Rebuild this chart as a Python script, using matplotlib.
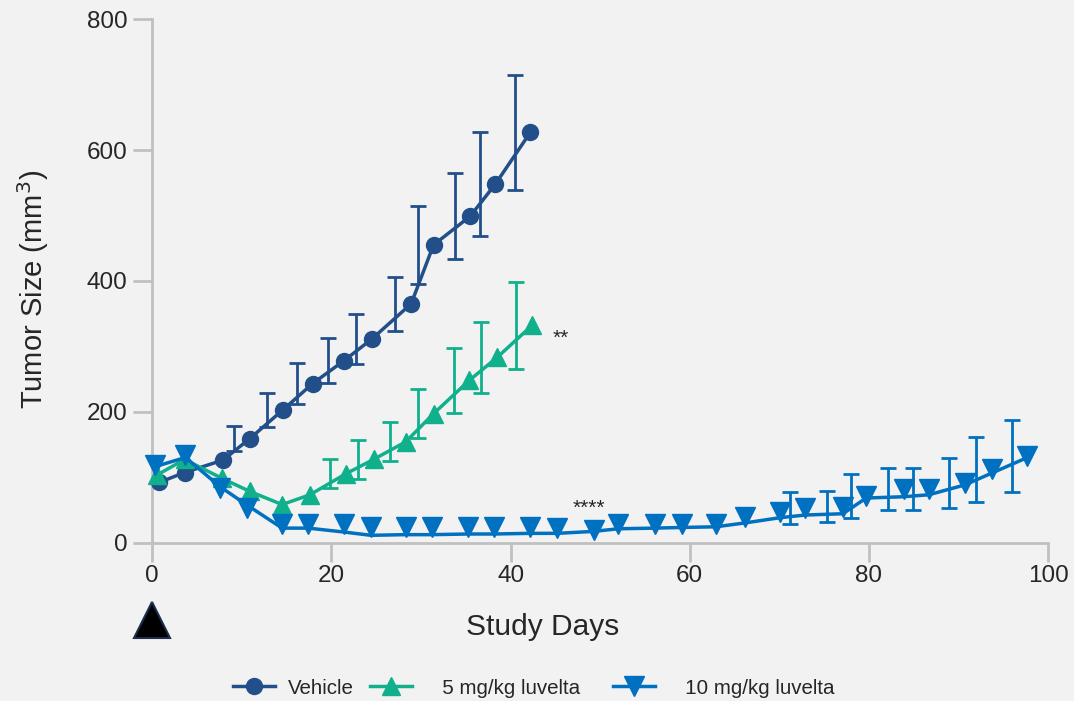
import matplotlib.pyplot as plt
from matplotlib.lines import Line2D

plt.rcParams['font.family'] = ['Liberation Sans', 'DejaVu Sans']

# study day / mean tumour volume (mm3) / SEM for each group
veh_days = [0.8, 3.6, 7.9, 10.9, 14.6, 17.9, 21.4, 24.5, 28.9, 31.4, 35.5, 38.3, 42.2]
veh_mean = [92, 107, 126, 159, 203, 243, 278, 311, 365, 455, 499, 548, 627]
veh_sem = [0, 0, 0, 19, 26, 31, 34, 38, 41, 60, 66, 80, 88]

lo_days = [0.5, 3.6, 7.8, 10.9, 14.5, 17.6, 21.6, 24.7, 28.3, 31.4, 35.4, 38.5, 42.4]
lo_mean = [103, 127, 98, 78, 58, 73, 105, 127, 154, 197, 248, 283, 332]
lo_sem = [0, 0, 0, 0, 0, 0, 22, 30, 30, 37, 50, 54, 66]

hi_days = [0.3, 3.7, 7.6, 10.6, 14.5, 17.4, 21.4, 24.4, 28.3, 31.2, 35.3, 38.1, 42.2, 45.2,
           49.3, 52.0, 56.1, 59.1, 62.9, 66.2, 70.1, 72.9, 77.1, 79.7, 83.9, 86.7, 90.7,
           93.7, 97.7]
hi_mean = [118, 134, 83, 53, 29, 29, 29, 24, 24, 24, 24, 24, 24, 22,
           19, 29, 29, 29, 29, 39, 47, 53, 55, 71, 82, 82, 91,
           112, 132]
hi_trend = [116, 130, 85, 57, 22, 22, 16, 11, 12, 12, 13, 13, 14, 14,
            17, 21, 22, 23, 24, 30, 38, 42, 44, 68, 70, 73, 88,
            106, 130]
hi_sem = [0] * 21 + [24, 24, 34, 32, 32, 38, 50, 55]

labels = ['Vehicle', '   5 mg/kg luvelta   ', '   10 mg/kg luvelta']
colors = ['#224f8a', '#10b08c', '#0070c0']

bg = '#f2f2f2'
axis_grey = '#c0c0c0'
text_col = '#262626'
err_shift = 1.75  # error bars sit just left of each point

fig = plt.figure(figsize=(10.74, 7.01), dpi=100, facecolor=bg)
ax = fig.add_axes([0.1418, 0.2261, 0.8340, 0.7464])
ax.set_facecolor(bg)


def draw_err(days, mean, sem, color, z):
    keep = [i for i, s in enumerate(sem) if s > 0]
    ax.errorbar([days[i] - err_shift for i in keep], [mean[i] for i in keep],
                yerr=[sem[i] for i in keep], fmt='none', ecolor=color,
                elinewidth=2, capsize=5.8, capthick=2, zorder=z, clip_on=False)


draw_err(veh_days, veh_mean, veh_sem, colors[0], 2)
draw_err(lo_days, lo_mean, lo_sem, colors[1], 2)
draw_err(hi_days, hi_mean, hi_sem, colors[2], 2)

ax.plot(veh_days, veh_mean, color=colors[0], lw=2.5, marker='o', ms=11.5,
        zorder=3, clip_on=False)
ax.plot(lo_days, lo_mean, color=colors[1], lw=2.5, marker='^', ms=13.5,
        zorder=4, clip_on=False)
ax.plot(hi_days, hi_trend, color=colors[2], lw=2.5, zorder=5, clip_on=False)
ax.plot(hi_days, hi_mean, ls='none', color=colors[2], marker='v', ms=14,
        zorder=5, clip_on=False)

# significance marks
ax.text(44.7, 304, '**', fontsize=15, color=text_col, va='baseline')
ax.text(46.9, 44, '****', fontsize=15, color=text_col, va='baseline')

# dosing start
ax.plot([0], [-118], marker='^', ms=26, mfc='black', mec='#1a2e4a', mew=1.5,
        clip_on=False, zorder=6)

ax.set_xlim(0, 100)
ax.set_ylim(0, 800)
ax.set_xticks([0, 20, 40, 60, 80, 100])
ax.set_yticks([0, 200, 400, 600, 800])
for side in ['top', 'right']:
    ax.spines[side].set_visible(False)
for side in ['left', 'bottom']:
    ax.spines[side].set_color(axis_grey)
    ax.spines[side].set_linewidth(2)
ax.tick_params(axis='both', direction='out', length=13.5, width=2, color=axis_grey,
               labelsize=17.5, labelcolor=text_col)
ax.tick_params(axis='y', pad=4.3)
ax.tick_params(axis='x', pad=3)

fig.text(543 / 1074, 1 - 627 / 701, 'Study Days', fontsize=21.5, color=text_col,
         ha='center', va='center')
fig.text(33 / 1074, 1 - 289 / 701, 'Tumor Size (mm$^3$)', fontsize=21, color=text_col,
         ha='center', va='center', rotation=90)

handles = [
    Line2D([], [], color=colors[0], lw=2.5, marker='o', ms=11.5),
    Line2D([], [], color=colors[1], lw=2.5, marker='^', ms=13.5),
    Line2D([], [], color=colors[2], lw=2.5, marker='v', ms=14),
]
leg = fig.legend(handles, labels, loc='center', bbox_to_anchor=(0.497, 0.0185),
                 ncol=3, frameon=False, fontsize=14.8, handlelength=2.05,
                 handletextpad=0.63, columnspacing=0.78)
for t in leg.get_texts():
    t.set_color(text_col)

fig.savefig('out.png', dpi=100, facecolor=bg)
